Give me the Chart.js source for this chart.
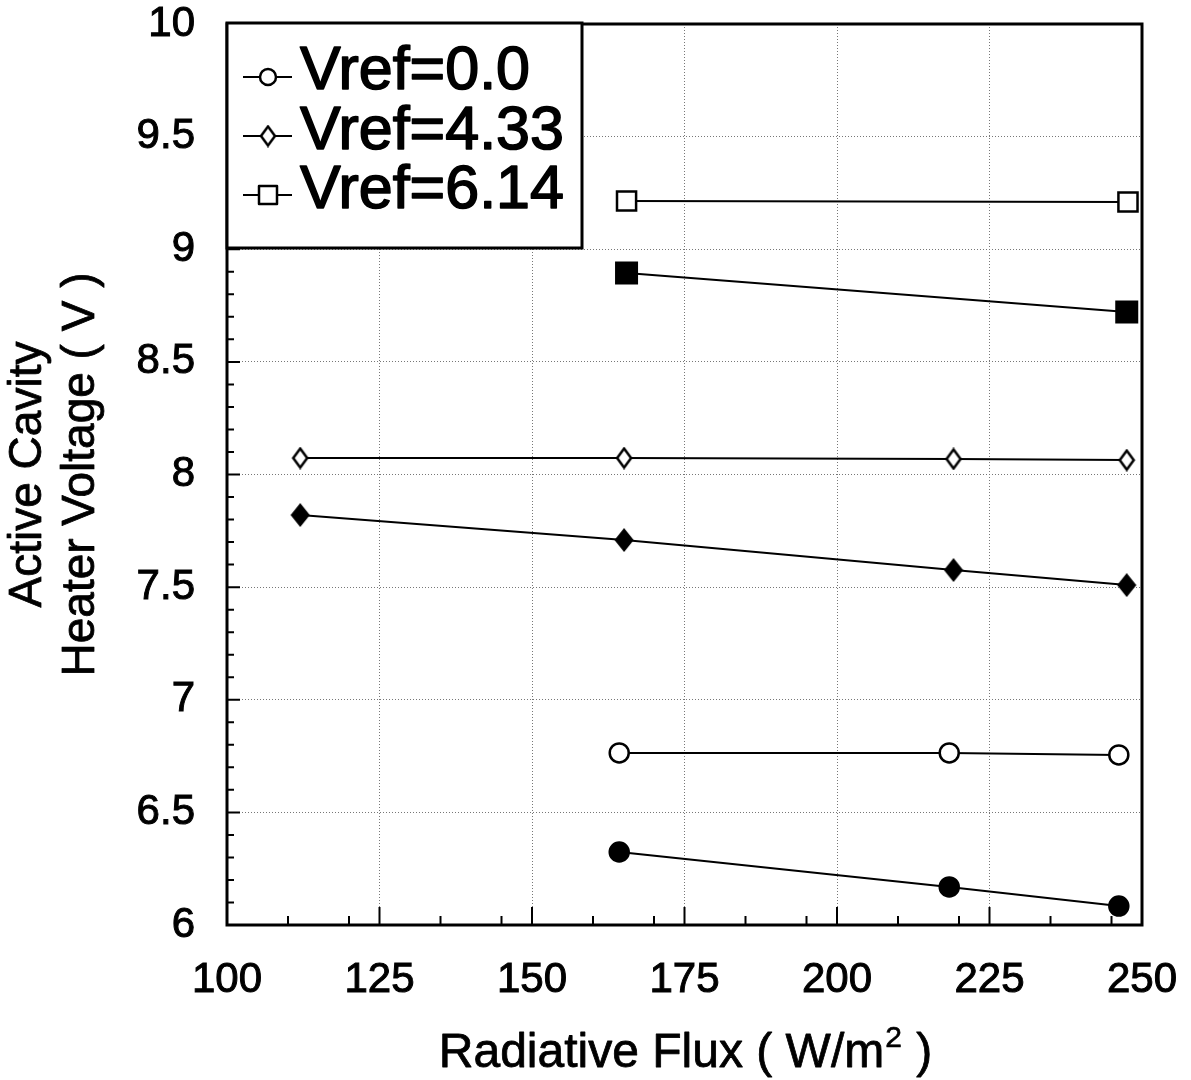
<!DOCTYPE html>
<html><head><meta charset="utf-8">
<script src="https://cdn.jsdelivr.net/npm/chart.js@4/dist/chart.umd.min.js"></script>
<style>html,body{margin:0;padding:0;background:#fff}#wrap{width:1191px;height:1080px;position:relative}</style>
</head><body><div id="wrap"><canvas id="c" width="1191" height="1080"></canvas></div>
<script>
// ---- data ----
const seriesLabels = ['Vref=0.0', 'Vref=4.33', 'Vref=6.14'];
const xOpenCircle = [164.3, 218.4, 246.2];
const yOpenCircle = [6.764, 6.764, 6.755];
const xFilledCircle = [164.3, 218.4, 246.2];
const yFilledCircle = [6.324, 6.169, 6.084];
const xOpenDiamond = [112.0, 165.1, 219.1, 247.5];
const yOpenDiamond = [8.073, 8.073, 8.069, 8.064];
const xFilledDiamond = [112.0, 165.1, 219.1, 247.5];
const yFilledDiamond = [7.820, 7.709, 7.576, 7.509];
const xOpenSquare = [165.5, 247.7];
const yOpenSquare = [9.214, 9.210];
const xFilledSquare = [165.5, 247.5];
const yFilledSquare = [8.895, 8.721];
const xTickLabels = [100, 125, 150, 175, 200, 225, 250];
const yTickLabels = [6, 6.5, 7, 7.5, 8, 8.5, 9, 9.5, 10];
const xTitle = 'Radiative Flux ( W/m';
const xTitleSup = '2';
const xTitleEnd = ' )';
const yTitleLines = ['Active Cavity', 'Heater Voltage ( V )'];

const FONT = "'Liberation Sans', Arial, Helvetica, sans-serif";

function pts(xs, ys) { return xs.map((x, i) => ({x: x, y: ys[i]})); }

function diamondImg(w, h, filled) {
  const c = document.createElement('canvas');
  c.width = w + 4; c.height = h + 4;
  const g = c.getContext('2d');
  const cx = c.width / 2, cy = c.height / 2;
  g.beginPath();
  g.moveTo(cx, cy - h / 2); g.lineTo(cx + w / 2, cy); g.lineTo(cx, cy + h / 2); g.lineTo(cx - w / 2, cy); g.closePath();
  g.fillStyle = filled ? '#000' : '#fff';
  g.fill();
  g.lineWidth = 2.5; g.strokeStyle = '#000'; g.stroke();
  return c;
}
const openDiamond = diamondImg(14, 19, false);
const filledDiamond = diamondImg(16, 20, true);

function ds(label, data, style, filled, radius) {
  return {
    label: label, data: data, showLine: true,
    borderColor: '#000', borderWidth: 2,
    pointStyle: style, pointRadius: radius, pointHoverRadius: radius,
    pointBackgroundColor: filled ? '#000' : '#fff', pointBorderColor: '#000', pointBorderWidth: 2.5,
    tension: 0
  };
}

const datasets = [
  ds(seriesLabels[0], pts(xOpenCircle, yOpenCircle), 'circle', false, 9.5),
  ds(seriesLabels[0] + ' (filled)', pts(xFilledCircle, yFilledCircle), 'circle', true, 9.5),
  ds(seriesLabels[1], pts(xOpenDiamond, yOpenDiamond), openDiamond, false, 10),
  ds(seriesLabels[1] + ' (filled)', pts(xFilledDiamond, yFilledDiamond), filledDiamond, true, 10),
  ds(seriesLabels[2], pts(xOpenSquare, yOpenSquare), 'rect', false, 13.5),
  ds(seriesLabels[2] + ' (filled)', pts(xFilledSquare, yFilledSquare), 'rect', true, 14.5)
];

function heavyText(ctx, t, x, y, w) {
  ctx.lineWidth = w; ctx.strokeStyle = '#000'; ctx.lineJoin = 'round';
  ctx.strokeText(t, x, y);
  ctx.fillText(t, x, y);
}

const framePlugin = {
  id: 'frame',
  afterDraw(chart) {
    const ctx = chart.ctx;
    const a = chart.chartArea;
    const xs = chart.scales.x, ys = chart.scales.y;
    ctx.save();
    ctx.strokeStyle = '#000';
    // inward ticks on x
    ctx.lineWidth = 2;
    ctx.beginPath();
    for (let i = 0; i < xTickLabels.length; i++) {
      const v = xTickLabels[i];
      const px = xs.getPixelForValue(v);
      if (i > 0 && i < xTickLabels.length - 1) { ctx.moveTo(px, a.bottom); ctx.lineTo(px, a.bottom - 18); }
      if (i < xTickLabels.length - 1) {
        [10, 20].forEach(d => { const p = xs.getPixelForValue(v + d); ctx.moveTo(p, a.bottom); ctx.lineTo(p, a.bottom - 9); });
      }
    }
    // inward ticks on y
    for (let i = 0; i < yTickLabels.length - 1; i++) {
      const v = yTickLabels[i];
      if (i > 0) { const py = ys.getPixelForValue(v); ctx.moveTo(a.left, py); ctx.lineTo(a.left + 13, py); }
      for (let k = 1; k < 5; k++) {
        const p = ys.getPixelForValue(v + k * 0.1);
        ctx.moveTo(a.left, p); ctx.lineTo(a.left + 7, p);
      }
    }
    ctx.stroke();
    // frame
    ctx.lineWidth = 3;
    ctx.strokeRect(a.left, a.top, a.right - a.left, a.bottom - a.top);

    // legend box (anchored to the top-left corner of the plot)
    const lx = a.left, ly = a.top - 1, lw = 355, lh = 225;
    ctx.fillStyle = '#fff';
    ctx.fillRect(lx, ly, lw, lh);
    ctx.lineWidth = 3;
    ctx.strokeRect(lx, ly, lw, lh);
    const rowsMarkerY = [54, 113, 172];
    const rowsBase = [66, 126, 185];
    const styles = ['circle', 'diamond', 'square'];
    for (let r = 0; r < 3; r++) {
      const my = ly + rowsMarkerY[r];
      ctx.lineWidth = 2; ctx.strokeStyle = '#000';
      ctx.beginPath(); ctx.moveTo(lx + 16, my); ctx.lineTo(lx + 65, my); ctx.stroke();
      ctx.fillStyle = '#fff'; ctx.lineWidth = 2.5;
      if (styles[r] === 'circle') {
        ctx.beginPath(); ctx.arc(lx + 41, my, 8, 0, Math.PI * 2); ctx.fill(); ctx.stroke();
      } else if (styles[r] === 'diamond') {
        ctx.drawImage(openDiamond, lx + 41 - openDiamond.width / 2, my - openDiamond.height / 2);
      } else {
        ctx.beginPath(); ctx.rect(lx + 32, my - 9, 18, 18); ctx.fill(); ctx.stroke();
      }
      ctx.fillStyle = '#000';
      ctx.font = '61px ' + FONT;
      ctx.textAlign = 'left'; ctx.textBaseline = 'alphabetic';
      heavyText(ctx, seriesLabels[r], lx + 73, ly + rowsBase[r], 1.6);
    }

    // x title with superscript
    ctx.fillStyle = '#000';
    ctx.font = '48px ' + FONT;
    const w1 = ctx.measureText(xTitle).width;
    ctx.font = '30px ' + FONT;
    const w2 = ctx.measureText(xTitleSup).width;
    ctx.font = '48px ' + FONT;
    const w3 = ctx.measureText(xTitleEnd).width;
    const cx = (a.left + a.right) / 2;
    let sx = cx - (w1 + w2 + w3) / 2;
    const base = 1067;
    ctx.textAlign = 'left'; ctx.textBaseline = 'alphabetic';
    heavyText(ctx, xTitle, sx, base, 0.8);
    ctx.font = '30px ' + FONT;
    heavyText(ctx, xTitleSup, sx + w1 + 1, base - 20, 0.6);
    ctx.font = '48px ' + FONT;
    heavyText(ctx, xTitleEnd, sx + w1 + w2 + 2, base, 0.8);

    // y title
    const cy = (a.top + a.bottom) / 2;
    [[28, yTitleLines[0]], [81, yTitleLines[1]]].forEach(([x, t]) => {
      ctx.save();
      ctx.font = '46px ' + FONT;
      ctx.fillStyle = '#000';
      ctx.textAlign = 'center'; ctx.textBaseline = 'middle';
      ctx.translate(x, cy); ctx.rotate(-Math.PI / 2);
      heavyText(ctx, t, 0, 0, 0.8);
      ctx.restore();
    });
    ctx.restore();
  }
};

function zeroPad(s) { s.paddingTop = 0; s.paddingBottom = 0; s.paddingLeft = 0; s.paddingRight = 0; }

new Chart(document.getElementById('c'), {
  type: 'scatter',
  data: { datasets: datasets },
  options: {
    responsive: false,
    animation: false,
    devicePixelRatio: 1,
    layout: { padding: { top: 24, right: 49, left: 0, bottom: 0 } },
    plugins: { legend: { display: false }, tooltip: { enabled: false } },
    scales: {
      x: {
        type: 'linear', min: 100, max: 250,
        afterBuildTicks: s => { s.ticks = xTickLabels.map(v => ({value: v})); },
        afterFit: s => { s.height = 155; zeroPad(s); },
        ticks: { color: '#000', font: { family: FONT, size: 42 }, padding: 30, maxRotation: 0, callback: v => String(v), textStrokeColor: '#000', textStrokeWidth: 1 },
        grid: { color: '#777', lineWidth: 1, drawTicks: false },
        border: { display: false, dash: [1, 2] }
      },
      y: {
        type: 'linear', min: 6, max: 10,
        afterBuildTicks: s => { s.ticks = yTickLabels.map(v => ({value: v})); },
        afterFit: s => { s.width = 227; zeroPad(s); },
        ticks: { color: '#000', font: { family: FONT, size: 42 }, padding: 32, callback: v => String(v), textStrokeColor: '#000', textStrokeWidth: 1 },
        grid: { color: '#777', lineWidth: 1, drawTicks: false },
        border: { display: false, dash: [1, 2] }
      }
    }
  },
  plugins: [framePlugin]
});
</script>
</body></html>
